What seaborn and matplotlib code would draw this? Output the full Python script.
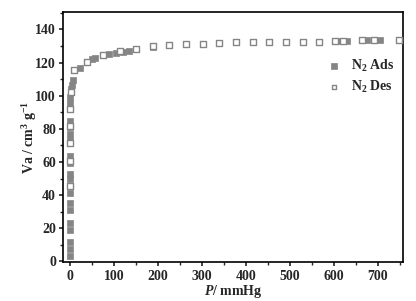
import pandas as pd
import seaborn as sns
import matplotlib.pyplot as plt
from matplotlib.ticker import MultipleLocator

# adsorption branch (filled squares)
ads_p = [0, 0, 0, 0, 0, 0, 0, 0, 0, 0, 0, 0, 0, 0, 0, 0, 0, 1, 1, 3, 4, 6,
         23, 49, 58, 89, 105, 121, 135, 150, 190, 613, 631, 677, 706]
ads_v = [3.5, 7.5, 11.5, 19, 23, 31, 35, 41.5, 45.5, 49.5, 53, 59.5, 63.5,
         73, 77, 81, 85, 95.5, 99, 104, 106.5, 109.5,
         117, 122, 123, 125, 126, 126.5, 127, 128, 129.5, 133.2, 133.3, 133.4, 133.5]

# desorption branch (open squares)
des_p = [749, 692, 665, 622, 604, 566, 530, 492, 454, 416, 378, 340, 302, 264,
         226, 190, 150, 114, 76, 38, 10, 3, 0, 0, 0, 0, 0]
des_v = [133.6, 133.5, 133.4, 133.3, 133.2, 132.6, 132.6, 132.6, 132.6, 132.5,
         132.3, 132, 131.5, 131, 130.5, 129.8, 128.3, 127, 124.5, 120.5, 115.5,
         102.5, 92, 81.5, 71.3, 60.7, 45.4]

ads = pd.DataFrame({'P': ads_p, 'Va': ads_v})
des = pd.DataFrame({'P': des_p, 'Va': des_v})

sns.set_style('ticks')
plt.rcParams['font.family'] = ['Liberation Serif', 'DejaVu Serif']
plt.rcParams['font.weight'] = 'bold'
plt.rcParams['mathtext.fontset'] = 'custom'
plt.rcParams['mathtext.rm'] = 'Liberation Serif:bold'
plt.rcParams['mathtext.bf'] = 'Liberation Serif:bold'
plt.rcParams['mathtext.it'] = 'Liberation Serif:italic:bold'

fig = plt.figure(figsize=(4.16, 3.01), dpi=100)
ax = fig.add_axes([0.1514, 0.128, 0.8174, 0.832])

sns.scatterplot(data=ads, x='P', y='Va', ax=ax, marker='s', s=24,
                color='#858585', edgecolor='#858585', linewidth=0.5,
                label=r'N$_\mathbf{2}$ Ads', zorder=2)
sns.scatterplot(data=des, x='P', y='Va', ax=ax, marker='s', s=20,
                facecolor='white', edgecolor='#858585', linewidth=1.0,
                label=r'N$_\mathbf{2}$ Des', zorder=3)

ax.set_xlim(-16, 758)
ax.set_ylim(-0.6, 150.5)
ax.xaxis.set_major_locator(MultipleLocator(100))
ax.xaxis.set_minor_locator(MultipleLocator(50))
ax.yaxis.set_major_locator(MultipleLocator(20))
ax.yaxis.set_minor_locator(MultipleLocator(10))
ax.tick_params(which='major', direction='out', length=3, width=1.2,
               labelsize=10, pad=2, top=False, right=False)
ax.tick_params(axis='x', which='major', pad=2.5)
ax.tick_params(which='minor', direction='out', length=2, width=1.0,
               top=False, right=False)
for lab in ax.get_xticklabels() + ax.get_yticklabels():
    lab.set_fontweight('bold')
for sp in ax.spines.values():
    sp.set_visible(True)
    sp.set_linewidth(1.2)
    sp.set_color('black')

ax.set_xlabel(r'$\mathit{P}$/ mmHg', fontsize=10, fontweight='bold', labelpad=0)
ax.set_ylabel(r'Va / cm$^\mathbf{3}$ g$^\mathbf{-1}$', fontsize=10,
              fontweight='bold', labelpad=-3)

leg = ax.legend(loc='upper right', bbox_to_anchor=(0.99, 0.84), frameon=False,
                fontsize=10, handlelength=1.0, handletextpad=0.7,
                labelspacing=0.35, borderaxespad=0, markerscale=0.75)
for t in leg.get_texts():
    t.set_fontweight('bold')

fig.savefig('out.png', dpi=100)
